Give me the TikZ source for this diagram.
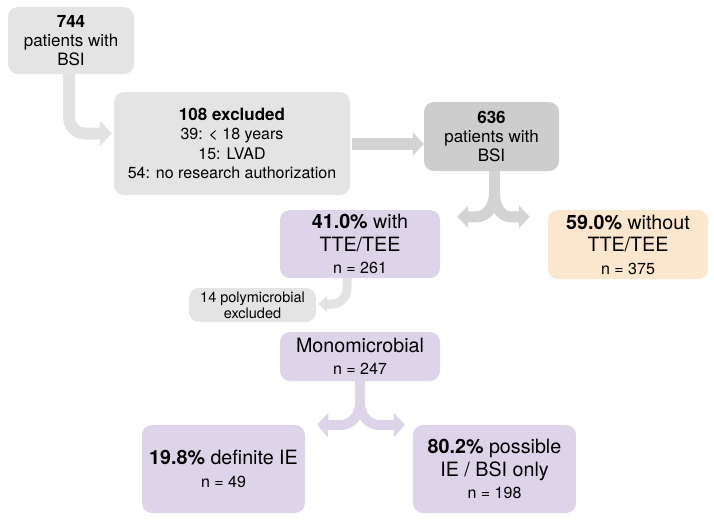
\documentclass[tikz,border=0pt]{standalone}
\usepackage{fontspec}
\setmainfont{TeX Gyre Heros}
\usetikzlibrary{arrows.meta,calc}
\definecolor{boxgray}{HTML}{E4E4E4}
\definecolor{boxdark}{HTML}{CDCDCD}
\definecolor{boxpurple}{HTML}{DDD4EA}
\definecolor{boxpeach}{HTML}{FDE6CE}
\definecolor{arrgray}{HTML}{E2E2E2}
\definecolor{arrdark}{HTML}{D3D3D3}
\newcommand{\bigf}{\fontsize{19.7}{22.5}\selectfont}
\newcommand{\midf}{\fontsize{17}{20.5}\selectfont}
\newcommand{\smf}{\fontsize{16}{18}\selectfont}
\begin{document}
\begin{tikzpicture}[x=1pt,y=-1pt,
  box/.style={rounded corners=10pt, inner sep=0pt, align=center, text=black},
]
\useasboundingbox (0,0) rectangle (714,523);

\node[box, fill=boxgray, minimum width=126pt, minimum height=67pt, font=\midf] (n744) at (71,40.5)
  {{\bfseries 744}\\[-1.5pt]patients with\\[-1pt]BSI};
\node[box, fill=boxgray, minimum width=236pt, minimum height=103pt, font=\fontsize{16}{19.5}\selectfont] (nexcl) at (232,143.5)
  {{\fontsize{17}{19.5}\selectfont\bfseries 108 excluded}\\39: < 18 years\\15: LVAD\\54: no research authorization};
\node[box, fill=boxdark, minimum width=135pt, minimum height=69pt, font=\midf] (n636) at (491.5,136.5)
  {{\bfseries 636}\\[-1.5pt]patients with\\[-1pt]BSI};
\node[box, fill=boxpurple, minimum width=160pt, minimum height=68pt, font=\bigf] (nwith) at (360,244)
  {{\bfseries 41.0\%} with\\TTE/TEE\\{\smf n = 261}};
\node[box, fill=boxpeach, minimum width=160pt, minimum height=69pt, font=\bigf] (nwithout) at (628,244.5)
  {{\bfseries 59.0\%} without\\TTE/TEE\\{\smf n = 375}};
\node[box, fill=boxgray, minimum width=127pt, minimum height=34pt, font=\fontsize{14.5}{16}\selectfont] (npoly) at (252.5,305)
  {14 polymicrobial\\excluded};
\node[box, fill=boxpurple, minimum width=160pt, minimum height=49pt, font=\bigf] (nmono) at (360,356.5)
  {Monomicrobial\\{\smf n = 247}};
\node[box, fill=boxpurple, minimum width=163pt, minimum height=88pt, font=\bigf] (ndef) at (223.5,469)
  {{\bfseries 19.8\%} definite IE\\{\smf n = 49}};
\node[box, fill=boxpurple, minimum width=163pt, minimum height=88pt, font=\bigf] (nposs) at (494.5,469)
  {{\bfseries 80.2\%} possible\\IE / BSI only\\{\smf n = 198}};

% 744 -> excluded
\draw[arrgray, line width=12pt, rounded corners=16pt, -{Triangle[width=25pt,length=12pt]}]
  ([xshift=-2pt]n744.south) |- ([shift={(-2pt,10pt)}]nexcl.west);

% excluded -> 636
\draw[arrdark, line width=12pt, -{Triangle[width=23pt,length=11pt]}]
  ([shift={(2pt,-0.5pt)}]nexcl.east) -- ($(nexcl.east -| n636.west)+(0,0.5)$);

% 636 split
\coordinate (s1) at ([xshift=3pt]n636.south);
\coordinate (s1b) at ($(s1)+(0,22)$);
\coordinate (lt1) at ($(nwith.north east)+(17,7)$);
\coordinate (rt1) at ($(nwithout.north west)+(-18,7)$);
\draw[arrdark, line width=11pt] (s1) -- (s1b);
\draw[arrdark, line width=11pt, -{Triangle[width=22pt,length=11pt]}]
  (s1b) to[out=-90,in=0] ($(lt1)+(19,0)$) -- (lt1);
\draw[arrdark, line width=11pt, -{Triangle[width=22pt,length=11pt]}]
  (s1b) to[out=-90,in=180] ($(rt1)+(-19,0)$) -- (rt1);

% with -> polymicrobial
\coordinate (s2) at ([xshift=-13pt]nwith.south);
\coordinate (lt2) at ($(npoly.east)+(2,-1)$);
\draw[arrgray, line width=9pt, -{Triangle[width=16pt,length=9pt]}]
  (s2) -- ++(0,10) to[out=-90,in=0] ($(lt2)+(14,0)$) -- (lt2);

% monomicrobial split
\coordinate (s3) at (nmono.south);
\coordinate (s3b) at ($(s3)+(0,22)$);
\coordinate (lt3) at ($(ndef.north east)+(12,0)$);
\coordinate (rt3) at ($(nposs.north west)+(-8,0)$);
\draw[boxpurple, line width=10pt] (s3) -- (s3b);
\draw[boxpurple, line width=10pt, -{Triangle[width=24pt,length=11pt]}]
  (s3b) to[out=-90,in=0] ($(s3b)+(-20,22)$) -- (lt3);
\draw[boxpurple, line width=10pt, -{Triangle[width=24pt,length=11pt]}]
  (s3b) to[out=-90,in=180] ($(s3b)+(20,22)$) -- (rt3);
\end{tikzpicture}
\end{document}
